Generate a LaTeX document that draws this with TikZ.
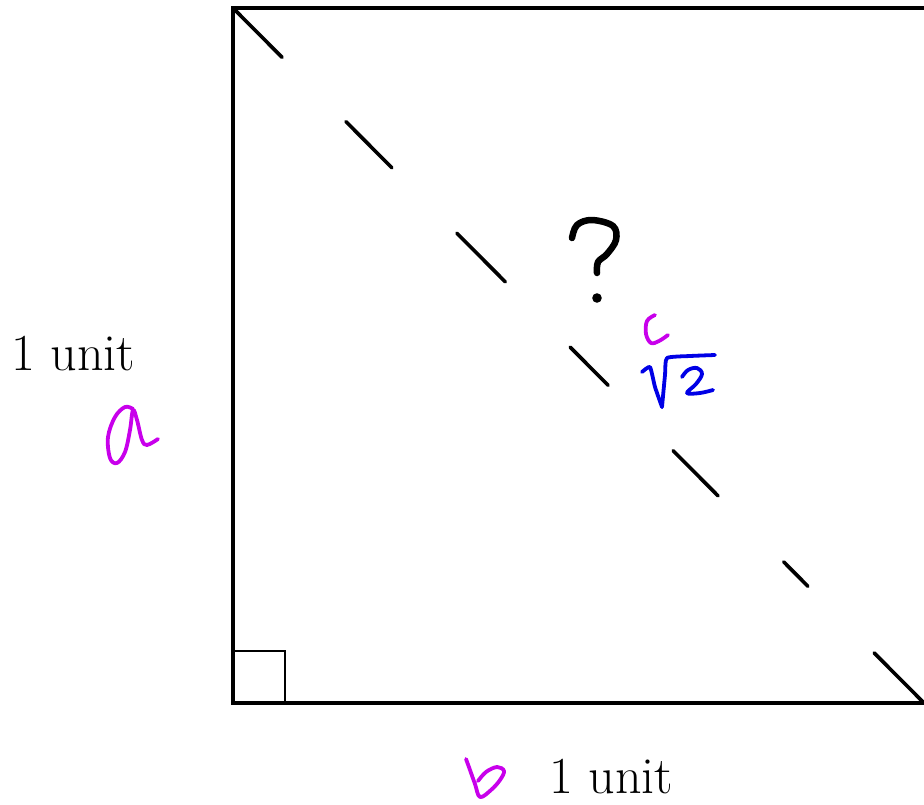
\documentclass[tikz,border=0pt]{standalone}
\usetikzlibrary{calc}
\definecolor{hmag}{RGB}{200,0,235}
\definecolor{hblue}{RGB}{0,0,230}
\tikzset{
  edge/.style={line width=3.2pt, black},
  dashseg/.style={line width=3.6pt, black, line cap=round},
  hand/.style={line width=3.8pt, line cap=round, line join=round},
  lbl/.style={font=\fontsize{52}{56}\selectfont, inner sep=0pt, anchor=base west}
}
\begin{document}
\begin{tikzpicture}[x=1pt,y=-1pt]
\useasboundingbox (0,0) rectangle (924,804);
\coordinate (A) at (233,8);
\coordinate (B) at (233,703);
\coordinate (C) at (924,703);
\coordinate (T) at (924,8);
\draw[edge] (T) -- (A) -- (B) -- (C);
% right-angle mark
\coordinate (R1) at (233,651);
\coordinate (R2) at (285,651);
\coordinate (R3) at (285,703);
\draw[edge, line width=2.8pt] (R1) -- (R2) -- (R3);
% dashed diagonal
\foreach \s/\e in {0/0.071, 0.1635/0.230, 0.324/0.394, 0.488/0.543, 0.637/0.702, 0.797/0.832, 0.928/1}
  \draw[dashseg] ($(A)!\s!(C)$) -- ($(A)!\e!(C)$);
% labels
\node[lbl] (lu) at (11,370) {1 unit};
\node[lbl] (bu) at (549,793) {1 unit};
% question mark
\draw[hand, line width=6.5pt] plot[smooth, tension=0.6] coordinates {(572,238) (577,225) (592,220) (613,226) (616,240) (607,254) (598,262) (597,273)};
\fill (597,298) circle (4.8pt);
% magenta c
\draw[hand, hmag] plot[smooth, tension=0.6] coordinates {(655,315) (647,321) (646,334) (651,343) (659,341) (668,335)};
% blue sqrt 2
\draw[hand, hblue] plot[smooth, tension=0.3] coordinates {(642,372) (650,367) (655,387) (662,407)};
\draw[hand, hblue] plot[smooth, tension=0.3] coordinates {(662,407) (665,375) (667,358) (690,356) (715,355)};
\draw[hand, hblue] plot[smooth, tension=0.6] coordinates {(682,377) (688,370) (697,368) (702,374) (696,384) (687,393) (700,393) (713,390)};
% magenta a
\draw[hand, hmag] plot[smooth, tension=0.6] coordinates {(133,409) (125,407) (115,417) (108,437) (110,458) (117,463) (125,452) (130,430) (133,410) (137,420) (142,440) (147,445) (158,439)};
% magenta b
\draw[hand, hmag] plot[smooth, tension=0.6] coordinates {(466,759) (470,770) (475,784) (480,797) (491,790) (500,780) (504,771) (497,767) (486,772) (478,781)};
\end{tikzpicture}
\end{document}
